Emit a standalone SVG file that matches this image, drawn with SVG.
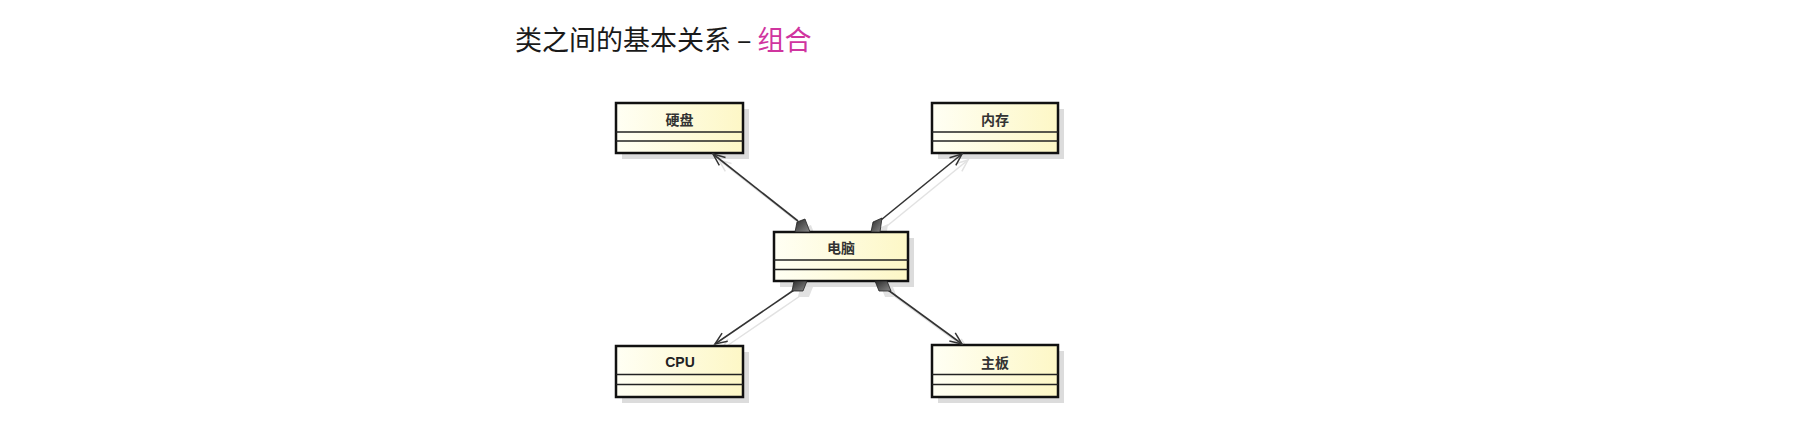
<svg xmlns="http://www.w3.org/2000/svg" width="1809" height="428" viewBox="0 0 1809 428">
<defs>
<linearGradient id="fill" x1="0" y1="0" x2="1" y2="0">
<stop offset="0" stop-color="#fffff4"/>
<stop offset="1" stop-color="#fdf7c6"/>
</linearGradient>
<linearGradient id="dia" x1="0" y1="0" x2="1" y2="1">
<stop offset="0" stop-color="#2a2a2a"/>
<stop offset="1" stop-color="#8a8a8a"/>
</linearGradient>
<marker id="arr" viewBox="-14 -7 16 14" refX="0" refY="0" markerWidth="16" markerHeight="14" markerUnits="userSpaceOnUse" orient="auto">
<path d="M-12,-5 L0,0 L-12,5" fill="none" stroke="#333" stroke-width="1.5"/>
</marker>
<marker id="arrs" viewBox="-14 -7 16 14" refX="0" refY="0" markerWidth="16" markerHeight="14" markerUnits="userSpaceOnUse" orient="auto">
<path d="M-12,-5 L0,0 L-12,5" fill="none" stroke="#e2e2e2" stroke-width="1.5"/>
</marker>
</defs>
<style>
.title{font-family:"Noto Sans CJK SC","Liberation Sans",sans-serif;font-size:27px;font-weight:400;fill:#1a1a1a}
.pink{fill:#d0359f}
.shadow{fill:#dcdcdc}
.box{fill:url(#fill);stroke:#111;stroke-width:2.5}
.sep{stroke:#222;stroke-width:1.3}
.lbl{font-family:"Noto Sans CJK SC","Liberation Sans",sans-serif;font-size:14px;font-weight:bold;fill:#333;text-anchor:middle}
.lat{font-family:"Liberation Sans",Arial,sans-serif;font-size:14px;font-weight:bold;fill:#222;text-anchor:middle}
.conn{stroke:#333;stroke-width:1.6;fill:none;marker-end:url(#arr)}
.connS{stroke:#e2e2e2;stroke-width:1.5;fill:none;marker-end:url(#arrs)}
.dia{fill:url(#dia);stroke:#222;stroke-width:0.8}
.diaS{fill:#e2e2e2}
</style>
<rect width="1809" height="428" fill="#ffffff"/>
<text class="title" x="515" y="50">类之间的基本关系 – <tspan class="pink">组合</tspan></text>

<g id="connector-shadows" transform="translate(6,6)">
<line class="connS" x1="798" y1="221" x2="713" y2="154"/>
<line class="connS" x1="881" y1="220" x2="962" y2="154"/>
<line class="connS" x1="794" y1="290" x2="715" y2="344"/>
<line class="connS" x1="888" y1="290" x2="962" y2="344"/>
<polygon class="diaS" points="795,232 797,222 805,219 810,232"/>
<polygon class="diaS" points="871,232 873,222 882,218 880,232"/>
<polygon class="diaS" points="794,281 807,281 803,291 792,291"/>
<polygon class="diaS" points="875,281 887,281 891,291 879,291"/>
</g>

<g id="n-disk">
<rect class="shadow" x="622" y="109" width="127" height="50"/>
<rect class="box" x="616" y="103" width="127" height="50"/>
<line class="sep" x1="616" y1="132" x2="743" y2="132"/>
<line class="sep" x1="616" y1="141" x2="743" y2="141"/>
<text class="lbl" x="679.5" y="125">硬盘</text>
</g>
<g id="n-mem">
<rect class="shadow" x="938" y="109" width="126" height="50"/>
<rect class="box" x="932" y="103" width="126" height="50"/>
<line class="sep" x1="932" y1="132" x2="1058" y2="132"/>
<line class="sep" x1="932" y1="141" x2="1058" y2="141"/>
<text class="lbl" x="995" y="125">内存</text>
</g>
<g id="n-pc">
<rect class="shadow" x="780" y="238" width="134" height="49"/>
<rect class="box" x="774" y="232" width="134" height="49"/>
<line class="sep" x1="774" y1="260" x2="908" y2="260"/>
<line class="sep" x1="774" y1="269.5" x2="908" y2="269.5"/>
<text class="lbl" x="841" y="253">电脑</text>
</g>
<g id="n-cpu">
<rect class="shadow" x="622" y="352" width="127" height="51"/>
<rect class="box" x="616" y="346" width="127" height="51"/>
<line class="sep" x1="616" y1="374.5" x2="743" y2="374.5"/>
<line class="sep" x1="616" y1="384.5" x2="743" y2="384.5"/>
<text class="lat" x="680" y="367">CPU</text>
</g>
<g id="n-board">
<rect class="shadow" x="938" y="351" width="126" height="52"/>
<rect class="box" x="932" y="345" width="126" height="52"/>
<line class="sep" x1="932" y1="374.5" x2="1058" y2="374.5"/>
<line class="sep" x1="932" y1="384.5" x2="1058" y2="384.5"/>
<text class="lbl" x="995" y="368">主板</text>
</g>

<g id="connectors">
<line class="conn" x1="798" y1="221" x2="713" y2="154"/>
<line class="conn" x1="881" y1="220" x2="962" y2="154"/>
<line class="conn" x1="794" y1="290" x2="715" y2="344"/>
<line class="conn" x1="888" y1="290" x2="962" y2="344"/>
<polygon class="dia" points="795,232 797,222 805,219 810,232"/>
<polygon class="dia" points="871,232 873,222 882,218 880,232"/>
<polygon class="dia" points="794,281 807,281 803,291 792,291"/>
<polygon class="dia" points="875,281 887,281 891,291 879,291"/>
</g>
</svg>
